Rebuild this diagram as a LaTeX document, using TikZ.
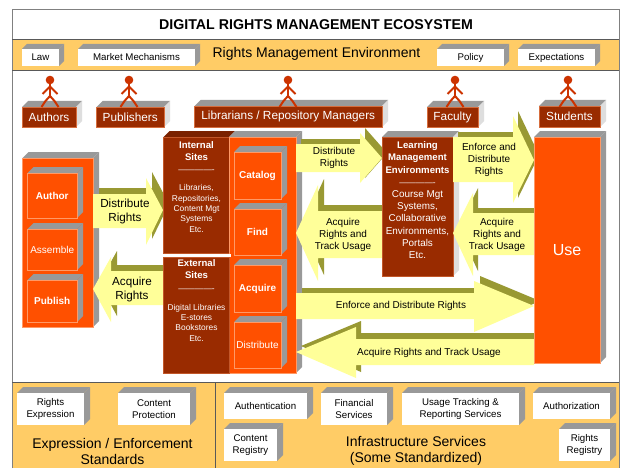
\documentclass[tikz,border=0pt]{standalone}
\usepackage{fontspec}
\setmainfont{Liberation Sans}
\usepackage{tikz}
\usetikzlibrary{positioning, calc}

\definecolor{bandorange}{HTML}{FFCC66}
\definecolor{boxorange}{HTML}{FF5000}
\definecolor{boxrim}{HTML}{FF9966}
\definecolor{siterust}{HTML}{992B00}
\definecolor{sitedark}{HTML}{7A2200}
\definecolor{cubegray}{HTML}{999999}
\definecolor{cubelight}{HTML}{DEDEDE}
\definecolor{arrowyellow}{HTML}{FFFF99}
\definecolor{arrowolive}{HTML}{999933}
\definecolor{personred}{HTML}{CC3300}
\definecolor{framegray}{HTML}{808080}

\colorlet{cubetopcol}{cubegray}
\colorlet{cubesidecol}{cubegray}
\def\cubedepth{6}

\tikzset{
	cubebase/.style = {anchor=north west, inner sep=0pt, outer sep=0pt, align=center},
	plainbox/.style = {cubebase, fill=white, text=black, font=\fontsize{9.7}{12.4}\selectfont},
	actorbox/.style = {cubebase, fill=siterust, draw=boxrim!60!siterust, line width=0.5pt, text=white, font=\fontsize{11.8}{14}\selectfont},
	stepbox/.style = {cubebase, fill=boxorange, draw=boxrim, line width=0.6pt, text=white, font=\fontsize{10}{12}\selectfont},
	stepbold/.style = {stepbox, font=\fontsize{10}{12}\bfseries\selectfont},
	sitebox/.style = {cubebase, fill=siterust, draw=boxrim!40!siterust, line width=0.4pt},
	sitetext/.style = {anchor=north, inner sep=0pt, align=center, text=white, font=\fontsize{8.4}{10.3}\selectfont},
	learntext/.style = {sitetext, font=\fontsize{9.9}{12.2}\selectfont},
	arrowbig/.style = {inner sep=0pt, align=center, text=black, font=\fontsize{11.7}{14}\selectfont},
	arrowsmall/.style = {inner sep=0pt, align=center, text=black, font=\fontsize{10}{12.4}\selectfont},
	bandlabel/.style = {inner sep=0pt, align=center, text=black, font=\fontsize{14}{16}\selectfont},
	personhead/.style = {circle, fill=personred, inner sep=0pt, minimum size=8.6pt},
	personline/.style = {draw=personred, line width=2pt, line join=round},
}

\newcommand{\headline}[1]{{\fontsize{9.6}{12}\bfseries\selectfont #1}}
\newcommand{\dashline}{{\fontsize{8.4}{8}\selectfont -------------}}

% front face from (x1,y1) to (x2,y2), depth goes up and to the right
\newcommand{\cubenode}[7]{
	\fill[cubetopcol] (#3,#4) -- (#3+\cubedepth,#4-\cubedepth) -- (#5+\cubedepth,#4-\cubedepth) -- (#5,#4) -- cycle;
	\fill[cubesidecol] (#5,#4) -- (#5+\cubedepth,#4-\cubedepth) -- (#5+\cubedepth,#6-\cubedepth) -- (#5,#6) -- cycle;
	\node[#2, minimum width={(#5-#3)*1pt}, minimum height={(#6-#4)*1pt}] (#1) at (#3,#4) {#7};
}
\newcommand{\blockarrow}[2]{
	\fill[arrowolive, shift={(#1)}] #2 -- cycle;
	\fill[arrowyellow] #2 -- cycle;
}
\newcommand{\personfig}[2]{
	\node[personhead] (#1head) at (#2,80) {};
	\coordinate (#1hip) at (#2,96);
	\draw[personline] (#1head.center) -- (#1hip);
	\draw[personline] (#2-7.5,94) -- (#2,86.5) -- (#2+7.5,94);
	\draw[personline] (#2-8.5,107) -- (#2-4.5,101) -- (#1hip) -- (#2+4.5,101) -- (#2+8.5,107);
}

\begin{document}
\begin{tikzpicture}[x=1pt, y=-1pt]
	\useasboundingbox (0,0) rectangle (620,468);
	\fill[white] (0,0) rectangle (620,468);

	% frame and bands
	\fill[bandorange] (12,39) rectangle (619,70.5);
	\fill[bandorange] (12,382) rectangle (619,468);
	\draw[framegray, line width=0.9pt] (12,468) -- (12,9) -- (619,9) -- (619,468);
	\draw[black!65, line width=0.9pt] (12,39.5) -- (619,39.5);
	\draw[black!65, line width=0.9pt] (12,70.5) -- (619,70.5);
	\draw[black!65, line width=0.9pt] (12,382.5) -- (619,382.5);
	\draw[black!65, line width=0.9pt] (215,382.5) -- (215,468);

	\node[inner sep=0pt, font=\fontsize{14.2}{16}\bfseries\selectfont] (titletext) at (316,25) {DIGITAL RIGHTS MANAGEMENT ECOSYSTEM};
	\node[bandlabel] (envtext) at (316.5,53.5) {Rights Management Environment};

	% environment boxes
	\def\cubedepth{5}
	\cubenode{lawbox}{plainbox}{22}{49}{59}{66}{\raisebox{-1pt}{Law}}
	\cubenode{marketbox}{plainbox}{78}{49}{195}{66}{\raisebox{-1pt}{Market Mechanisms}}
	\cubenode{policybox}{plainbox}{437}{49}{504}{66}{\raisebox{-1pt}{Policy}}
	\cubenode{expectbox}{plainbox}{518}{49}{595}{66}{\raisebox{-1pt}{Expectations}}

	% actors
	\def\cubedepth{6}
	\colorlet{cubesidecol}{cubelight}
	\cubenode{authorsbox}{actorbox}{22}{107}{76}{127}{Authors}
	\cubenode{publishersbox}{actorbox}{96.5}{107}{164}{127}{Publishers}
	\cubenode{librariansbox}{actorbox}{194.5}{106}{382}{127}{Librarians / Repository Managers}
	\cubenode{facultybox}{actorbox}{427}{107}{478}{127}{Faculty}
	\cubenode{studentsbox}{actorbox}{539}{106}{600}{127}{Students}
	\personfig{authors}{50}
	\personfig{publishers}{129}
	\personfig{librarians}{288}
	\personfig{faculty}{455}
	\personfig{students}{568}

	% author column
	\colorlet{cubesidecol}{cubegray}
	\cubenode{leftcol}{stepbox}{22.5}{158}{93}{327}{}
	\cubenode{authorbox}{stepbold}{27.5}{173}{77}{218}{Author}
	\cubenode{assemblebox}{stepbox}{27.5}{229}{77}{270}{Assemble}
	\cubenode{publishbox}{stepbold}{27.5}{280}{77}{322}{Publish}

	% arrows at the author column
	\blockarrow{6,-6}{(93,194) -- (146,194) -- (146,178) -- (163,210) -- (146,245) -- (146,228) -- (93,228)}
	\blockarrow{6,-6}{(93,289) -- (111,257) -- (111,271) -- (163,271) -- (163,305) -- (111,305) -- (111,322)}
	\node[arrowbig] (disttext) at (125,211) {Distribute\\Rights};
	\node[arrowbig] (acqtext) at (132,289) {Acquire\\Rights};

	% sites and function column
	\colorlet{cubetopcol}{sitedark}
	\cubenode{internalbox}{sitebox}{163.5}{137}{229}{253}{}
	\colorlet{cubetopcol}{cubegray}
	\cubenode{funccol}{stepbox}{229.5}{137}{296}{373}{}
	\node[sitebox, minimum width=65.5pt, minimum height=116pt] (externalbox) at (163.5,257) {};
	\fill[white] (163,253.5) rectangle (231,256.5);
	\node[sitetext] (internaltext) at (196.5,141.5) {\headline{Internal}\\[1.7pt]\headline{Sites}\\[1.7pt]\dashline\\[8pt]Libraries,\\Repositories,\\Content Mgt\\Systems\\Etc.};
	\node[sitetext] (externaltext) at (196.5,259.5) {\headline{External}\\[1.7pt]\headline{Sites}\\[3pt]\dashline\\[8pt]Digital Libraries\\E-stores\\Bookstores\\Etc.};
	\cubenode{catalogbox}{stepbold}{234}{152}{281}{199}{Catalog}
	\cubenode{findbox}{stepbold}{234}{209}{281}{255}{Find}
	\cubenode{acquirebox}{stepbold}{234}{265}{281}{312}{Acquire}
	\cubenode{distributebox}{stepbox}{234}{322}{281}{368}{Distribute}

	% arrows between function column and the rest
	\blockarrow{5,-5}{(296,144) -- (360,144) -- (360,133) -- (382,158) -- (360,183) -- (360,172) -- (296,172)}
	\blockarrow{6,-6}{(296,233) -- (318,185) -- (318,211) -- (382,211) -- (382,258) -- (318,258) -- (318,281)}
	\blockarrow{6,-5}{(296,293) -- (474,293) -- (474,281) -- (534,306) -- (474,332) -- (474,319) -- (296,319)}
	\blockarrow{5,-6}{(296,352) -- (356,327) -- (356,339) -- (534,339) -- (534,365) -- (356,365) -- (356,378)}

	% learning environments
	\colorlet{cubesidecol}{cubelight}
	\cubenode{learningbox}{sitebox}{382}{137}{453}{276}{}
	\node[learntext] (learningtext) at (417.5,141.5) {\headline{Learning}\\\headline{Management}\\\headline{Environments}\\\dashline\\Course Mgt\\Systems,\\Collaborative\\Environments,\\Portals\\Etc.};

	\blockarrow{5,-5}{(453,137) -- (513,137) -- (513,116) -- (534,160) -- (513,203) -- (513,182) -- (453,182)}
	\blockarrow{5,-5}{(453,233) -- (473,193) -- (473,213) -- (534,213) -- (534,255) -- (473,255) -- (473,276)}

	% use
	\colorlet{cubesidecol}{cubegray}
	\cubenode{usebox}{stepbox, font=\fontsize{16}{18}\selectfont}{534}{137}{600}{363}{Use}

	\node[arrowsmall] (distmidtext) at (334,158) {Distribute\\Rights};
	\node[arrowsmall] (acqmidtext) at (343,235) {Acquire\\Rights and\\Track Usage};
	\node[arrowsmall] (enforcetext) at (489,160) {Enforce and\\Distribute\\Rights};
	\node[arrowsmall] (acqrighttext) at (497,235) {Acquire\\Rights and\\Track Usage};
	\node[arrowsmall] (enforcelongtext) at (401,306) {Enforce and Distribute Rights};
	\node[arrowsmall] (acqlongtext) at (429,353) {Acquire Rights and Track Usage};

	% standards and services
	\cubenode{rightsexprbox}{plainbox}{17}{393}{84}{425}{Rights\\Expression}
	\cubenode{contentprotbox}{plainbox}{118}{393}{190}{425}{Content\\Protection}
	\cubenode{authenticbox}{plainbox}{224}{393}{307}{419}{Authentication}
	\cubenode{contentregbox}{plainbox}{224}{429}{277}{461}{Content\\Registry}
	\cubenode{financialbox}{plainbox}{321}{393}{387}{425}{Financial\\Services}
	\cubenode{usagebox}{plainbox}{402}{393}{519}{425}{Usage Tracking \&\\Reporting Services}
	\cubenode{authorizebox}{plainbox}{533}{393}{610}{419}{Authorization}
	\cubenode{rightsregbox}{plainbox}{559}{429}{610}{461}{Rights\\Registry}
	\node[bandlabel] (standardstext) at (112.5,451) {Expression / Enforcement\\Standards};
	\node[bandlabel] (servicestext) at (416,451) {Infrastructure Services\\(Some Standardized)};
\end{tikzpicture}
\end{document}
